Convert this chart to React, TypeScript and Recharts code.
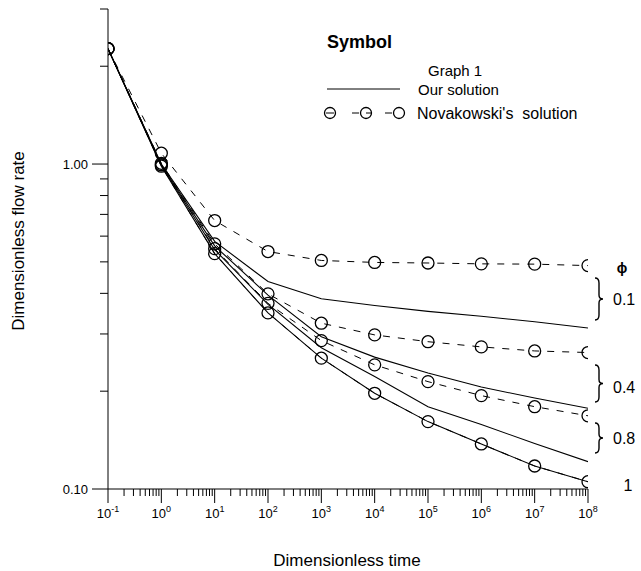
import React from 'react';
import { LineChart, Line, XAxis, YAxis } from 'recharts';

// ---- Data ----
const times = [0.1, 1, 10, 100, 1e3, 1e4, 1e5, 1e6, 1e7, 1e8];

// Our solution (solid lines), phi = 0.1, 0.4, 0.8, 1
const ourPhi01 = [2.265, 1.0, 0.578, 0.435, 0.385, 0.367, 0.352, 0.34, 0.327, 0.313];
const ourPhi04 = [2.265, 0.995, 0.56, 0.395, 0.294, 0.2546, 0.2275, 0.206, 0.1905, 0.1772];
const ourPhi08 = [2.265, 0.99, 0.545, 0.37, 0.272, 0.222, 0.179, 0.158, 0.138, 0.1214];
const ourPhi1 = [2.265, 0.985, 0.53, 0.3483, 0.2527, 0.197, 0.1612, 0.1376, 0.1177, 0.1053];

// Novakowski's solution (dashed lines with circles)
const novPhi01 = [2.265, 1.08, 0.67, 0.538, 0.505, 0.498, 0.496, 0.493, 0.492, 0.487];
const novPhi04 = [2.265, 1.005, 0.568, 0.3986, 0.3238, 0.298, 0.284, 0.2737, 0.266, 0.263];
const novPhi08 = [2.265, 0.995, 0.549, 0.3726, 0.2862, 0.241, 0.214, 0.1938, 0.1792, 0.168];
const novPhi1 = [2.265, 0.985, 0.53, 0.3483, 0.2527, 0.197, 0.1612, 0.1376, 0.1177, 0.1053];

// Ticks
const xMajorTicks = [0.1, 1, 10, 100, 1e3, 1e4, 1e5, 1e6, 1e7, 1e8];
const xExponents = ['-1', '0', '1', '2', '3', '4', '5', '6', '7', '8'];
const yMajorTicks = [0.1, 1];
const yTickLabels = ['0.10', '1.00'];
const yMinorTicks = [0.2, 0.3, 0.4, 0.5, 0.6, 0.7, 0.8, 0.9, 2, 3];

const xAllTicks: number[] = [];
xMajorTicks.forEach((t, i) => {
  xAllTicks.push(t);
  if (i < xMajorTicks.length - 1) {
    for (let m = 2; m <= 9; m++) xAllTicks.push(+(t * m).toPrecision(6));
  }
});
const yAllTicks = [...yMajorTicks, ...yMinorTicks].sort((a, b) => a - b);

const data = times.map((t, i) => ({
  t,
  our01: ourPhi01[i],
  our04: ourPhi04[i],
  our08: ourPhi08[i],
  our1: ourPhi1[i],
  nov01: novPhi01[i],
  nov04: novPhi04[i],
  nov08: novPhi08[i],
  nov1: novPhi1[i],
}));

const FONT = '"Liberation Sans", Arial, sans-serif';

const near = (a: number, b: number) => Math.abs(a - b) / b < 1e-6;

const XTick = (props: any) => {
  const { x, y, payload } = props;
  const idx = xMajorTicks.findIndex((t) => near(payload.value, t));
  const major = idx >= 0;
  return (
    <g>
      <line x1={x} x2={x} y1={y} y2={y + (major ? 14 : 7)} stroke="#000" strokeWidth={1} />
      {major && (
        <text x={x} y={y + 29} textAnchor="middle" fontSize={13} fontFamily={FONT} fill="#000">
          <tspan>10</tspan>
          <tspan dy={-6} fontSize={9}>{xExponents[idx]}</tspan>
        </text>
      )}
    </g>
  );
};

const YTick = (props: any) => {
  const { x, y, payload } = props;
  const idx = yMajorTicks.findIndex((t) => near(payload.value, t));
  const major = idx >= 0;
  return (
    <g>
      <line x1={x - (major ? 16 : 8)} x2={x} y1={y} y2={y} stroke="#000" strokeWidth={1} />
      {major && (
        <text x={x - 20} y={y + 4.5} textAnchor="end" fontSize={13} fontFamily={FONT} fill="#000">
          {yTickLabels[idx]}
        </text>
      )}
    </g>
  );
};

const CircleDot = (props: any) => {
  const { cx, cy, index } = props;
  if (cx == null || cy == null) return <g key={index} />;
  return <circle key={index} cx={cx} cy={cy} r={6} fill="none" stroke="#000" strokeWidth={1.3} />;
};

const brace = (x: number, y0: number, y1: number) => {
  const m = (y0 + y1) / 2;
  const w = 4;
  return `M ${x} ${y0} Q ${x + w} ${y0} ${x + w} ${y0 + 5} L ${x + w} ${m - 4} Q ${x + w} ${m} ${x + 2 * w} ${m} Q ${x + w} ${m} ${x + w} ${m + 4} L ${x + w} ${y1 - 5} Q ${x + w} ${y1} ${x} ${y1}`;
};

export default function App() {
  return (
    <div style={{ position: 'absolute', left: 0, top: 0, width: 641, height: 571, background: '#fff' }}>
      <LineChart
        width={641}
        height={571}
        data={data}
        margin={{ top: 9, right: 53, bottom: 52, left: 48 }}
      >
        <XAxis
          dataKey="t"
          type="number"
          scale="log"
          domain={[0.1, 1e8]}
          allowDataOverflow
          ticks={xAllTicks}
          interval={0}
          tick={<XTick />}
          tickLine={false}
          tickSize={0}
          tickMargin={0}
          height={30}
          axisLine={{ stroke: '#000', strokeWidth: 1 }}
        />
        <YAxis
          type="number"
          scale="log"
          domain={[0.1, 3]}
          allowDataOverflow
          ticks={yAllTicks}
          interval={0}
          tick={<YTick />}
          tickLine={false}
          tickSize={0}
          tickMargin={0}
          width={60}
          axisLine={{ stroke: '#000', strokeWidth: 1 }}
        />
        <Line type="linear" dataKey="nov01" stroke="#000" strokeWidth={1} strokeDasharray="7 8" dot={<CircleDot />} isAnimationActive={false} />
        <Line type="linear" dataKey="nov04" stroke="#000" strokeWidth={1} strokeDasharray="7 8" dot={<CircleDot />} isAnimationActive={false} />
        <Line type="linear" dataKey="nov08" stroke="#000" strokeWidth={1} strokeDasharray="7 8" dot={<CircleDot />} isAnimationActive={false} />
        <Line type="linear" dataKey="nov1" stroke="#000" strokeWidth={1} strokeDasharray="7 8" dot={<CircleDot />} isAnimationActive={false} />
        <Line type="linear" dataKey="our01" stroke="#000" strokeWidth={1.1} dot={false} isAnimationActive={false} />
        <Line type="linear" dataKey="our04" stroke="#000" strokeWidth={1.1} dot={false} isAnimationActive={false} />
        <Line type="linear" dataKey="our08" stroke="#000" strokeWidth={1.1} dot={false} isAnimationActive={false} />
        <Line type="linear" dataKey="our1" stroke="#000" strokeWidth={1.1} dot={false} isAnimationActive={false} />
      </LineChart>
      <svg
        width={641}
        height={571}
        style={{ position: 'absolute', left: 0, top: 0, pointerEvents: 'none' }}
        fontFamily={FONT}
      >
        {/* axis titles */}
        <text x={347} y={566} textAnchor="middle" fontSize={17} fill="#000">Dimensionless time</text>
        <text x={24} y={241} textAnchor="middle" fontSize={17} fill="#000" transform="rotate(-90 24 241)">
          Dimensionless flow rate
        </text>
        {/* legend */}
        <text x={327} y={48} fontSize={18} fontWeight="bold" fill="#000">Symbol</text>
        <text x={428} y={76} fontSize={15} fill="#000">Graph 1</text>
        <line x1={327} x2={400} y1={89} y2={89} stroke="#000" strokeWidth={1} />
        <text x={418} y={95} fontSize={15} fill="#000">Our solution</text>
        <circle cx={330} cy={113} r={5.5} fill="none" stroke="#000" strokeWidth={1.3} />
        <circle cx={366} cy={113} r={5.5} fill="none" stroke="#000" strokeWidth={1.3} />
        <circle cx={399} cy={113} r={5.5} fill="none" stroke="#000" strokeWidth={1.3} />
        <line x1={326} x2={334} y1={113} y2={113} stroke="#000" strokeWidth={1} />
        <line x1={352} x2={359} y1={113} y2={113} stroke="#000" strokeWidth={1} />
        <line x1={366} x2={371} y1={113} y2={113} stroke="#000" strokeWidth={1} />
        <line x1={385} x2={392} y1={113} y2={113} stroke="#000" strokeWidth={1} />
        <text x={417} y={119} fontSize={16} fill="#000" xmlSpace="preserve">Novakowski's  solution</text>
        {/* phi annotations */}
        <text x={622} y={273} textAnchor="middle" fontSize={14} fontWeight="bold" fill="#000">ϕ</text>
        <path d={brace(595, 278, 320)} fill="none" stroke="#000" strokeWidth={1.4} />
        <text x={613} y={305} fontSize={16} fill="#000">0.1</text>
        <path d={brace(595, 365, 402)} fill="none" stroke="#000" strokeWidth={1.4} />
        <text x={613} y={393} fontSize={16} fill="#000">0.4</text>
        <path d={brace(595, 423, 453)} fill="none" stroke="#000" strokeWidth={1.4} />
        <text x={613} y={444} fontSize={16} fill="#000">0.8</text>
        <text x={628} y={491} textAnchor="middle" fontSize={16} fill="#000">1</text>
      </svg>
    </div>
  );
}
